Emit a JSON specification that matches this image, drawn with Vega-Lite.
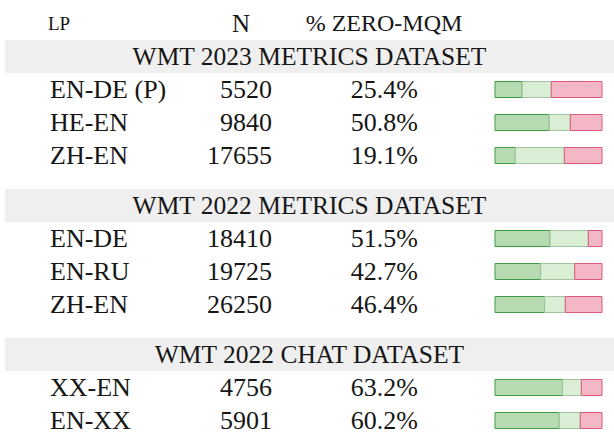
{
  "$schema": "https://vega.github.io/schema/vega-lite/v6.json",
  "padding": {"left": 5, "top": 7, "right": 0, "bottom": 0},
  "background": "white",
  "spacing": 17,
  "config": {
    "view": {"stroke": null},
    "font": "Liberation Serif",
    "text": {"font": "Liberation Serif", "color": "#161616", "baseline": "middle"}
  },
  "resolve": {"scale": {"x": "independent", "y": "independent", "color": "independent", "stroke": "independent"}},
  "datasets": {
    "table": [
      {"section": "WMT 2023 METRICS DATASET", "lp": "EN-DE (P)", "n": 5520, "pct": 0.254, "pctMid": 0.272, "pctRest": 0.474},
      {"section": "WMT 2023 METRICS DATASET", "lp": "HE-EN", "n": 9840, "pct": 0.508, "pctMid": 0.196, "pctRest": 0.296},
      {"section": "WMT 2023 METRICS DATASET", "lp": "ZH-EN", "n": 17655, "pct": 0.191, "pctMid": 0.457, "pctRest": 0.352},
      {"section": "WMT 2022 METRICS DATASET", "lp": "EN-DE", "n": 18410, "pct": 0.515, "pctMid": 0.357, "pctRest": 0.128},
      {"section": "WMT 2022 METRICS DATASET", "lp": "EN-RU", "n": 19725, "pct": 0.427, "pctMid": 0.318, "pctRest": 0.255},
      {"section": "WMT 2022 METRICS DATASET", "lp": "ZH-EN", "n": 26250, "pct": 0.464, "pctMid": 0.193, "pctRest": 0.343},
      {"section": "WMT 2022 CHAT DATASET", "lp": "XX-EN", "n": 4756, "pct": 0.632, "pctMid": 0.175, "pctRest": 0.193},
      {"section": "WMT 2022 CHAT DATASET", "lp": "EN-XX", "n": 5901, "pct": 0.602, "pctMid": 0.195, "pctRest": 0.203}
    ],
    "sections": [
      {"section": "WMT 2023 METRICS DATASET"},
      {"section": "WMT 2022 METRICS DATASET"},
      {"section": "WMT 2022 CHAT DATASET"}
    ],
    "headers": [
      {"row": "header", "col": "lp", "label": "LP"},
      {"row": "header", "col": "n", "label": "N"},
      {"row": "header", "col": "pct", "label": "% ZERO-MQM"}
    ]
  },
  "vconcat": [
    {
      "width": 609,
      "height": 165,
      "data": {"name": "table"},
      "transform": [{"filter": "datum.section == 'WMT 2023 METRICS DATASET'"}],
      "encoding": {
        "y": {"field": "lp", "type": "nominal", "axis": null,
              "scale": {"type": "band", "domain": ["header", "WMT 2023 METRICS DATASET", "EN-DE (P)", "HE-EN", "ZH-EN"], "paddingInner": 0, "paddingOuter": 0}}
      },
      "layer": [
        {"data": {"name": "sections"}, "transform": [{"filter": "datum.section == 'WMT 2023 METRICS DATASET'"}],
         "mark": {"type": "rect", "color": "#efefef"},
         "encoding": {"x": {"value": 0}, "x2": {"value": "width"}, "y": {"field": "section", "type": "nominal"}}},
        {"data": {"name": "sections"}, "transform": [{"filter": "datum.section == 'WMT 2023 METRICS DATASET'"}],
         "mark": {"type": "text", "font": "Liberation Serif", "fontSize": 25.5, "align": "center"},
         "encoding": {"y": {"field": "section", "type": "nominal"}, "text": {"field": "section", "type": "nominal"}}},
        {"data": {"name": "headers"}, "transform": [{"filter": "datum.col == 'lp'"}],
         "mark": {"type": "text", "font": "Liberation Serif", "fontSize": 19, "align": "center"},
         "encoding": {"x": {"value": 54}, "y": {"field": "row", "type": "nominal"}, "text": {"field": "label", "type": "nominal"}}},
        {"data": {"name": "headers"}, "transform": [{"filter": "datum.col == 'n'"}],
         "mark": {"type": "text", "font": "Liberation Serif", "fontSize": 25, "align": "center"},
         "encoding": {"x": {"value": 236}, "y": {"field": "row", "type": "nominal"}, "text": {"field": "label", "type": "nominal"}}},
        {"data": {"name": "headers"}, "transform": [{"filter": "datum.col == 'pct'"}],
         "mark": {"type": "text", "font": "Liberation Serif", "fontSize": 24, "align": "center"},
         "encoding": {"x": {"value": 379}, "y": {"field": "row", "type": "nominal"}, "text": {"field": "label", "type": "nominal"}}},
        {"mark": {"type": "text", "font": "Liberation Serif", "fontSize": 26, "align": "left"},
         "encoding": {"x": {"value": 45}, "text": {"field": "lp", "type": "nominal"}}},
        {"mark": {"type": "text", "font": "Liberation Serif", "fontSize": 26, "align": "right"},
         "encoding": {"x": {"value": 267}, "text": {"field": "n", "type": "quantitative", "format": "d"}}},
        {"mark": {"type": "text", "font": "Liberation Serif", "fontSize": 26, "align": "right"},
         "encoding": {"x": {"value": 413}, "text": {"field": "pct", "type": "quantitative", "format": ".1%"}}},
        {"transform": [{"fold": ["pct", "pctMid", "pctRest"], "as": ["part", "share"]}],
         "mark": {"type": "bar", "height": 16, "strokeWidth": 1, "opacity": 1},
         "encoding": {
           "x": {"field": "share", "type": "quantitative", "stack": "zero", "axis": null, "scale": {"domain": [0, 1], "range": [490, 597]}},
           "order": {"field": "part", "sort": "ascending"},
           "fill": {"field": "part", "type": "nominal", "legend": null, "scale": {"domain": ["pct", "pctMid", "pctRest"], "range": ["#b6dab1", "#d9eed5", "#f4b7c6"]}},
           "stroke": {"field": "part", "type": "nominal", "legend": null, "scale": {"domain": ["pct", "pctMid", "pctRest"], "range": ["#3e9c48", "#a3c6a0", "#da5c7c"]}}
         }}
      ]
    },
    {
      "width": 609,
      "height": 132,
      "data": {"name": "table"},
      "transform": [{"filter": "datum.section == 'WMT 2022 METRICS DATASET'"}],
      "encoding": {
        "y": {"field": "lp", "type": "nominal", "axis": null,
              "scale": {"type": "band", "domain": ["WMT 2022 METRICS DATASET", "EN-DE", "EN-RU", "ZH-EN"], "paddingInner": 0, "paddingOuter": 0}}
      },
      "layer": [
        {"data": {"name": "sections"}, "transform": [{"filter": "datum.section == 'WMT 2022 METRICS DATASET'"}],
         "mark": {"type": "rect", "color": "#efefef"},
         "encoding": {"x": {"value": 0}, "x2": {"value": "width"}, "y": {"field": "section", "type": "nominal"}}},
        {"data": {"name": "sections"}, "transform": [{"filter": "datum.section == 'WMT 2022 METRICS DATASET'"}],
         "mark": {"type": "text", "font": "Liberation Serif", "fontSize": 25.5, "align": "center"},
         "encoding": {"y": {"field": "section", "type": "nominal"}, "text": {"field": "section", "type": "nominal"}}},
        {"mark": {"type": "text", "font": "Liberation Serif", "fontSize": 26, "align": "left"},
         "encoding": {"x": {"value": 45}, "text": {"field": "lp", "type": "nominal"}}},
        {"mark": {"type": "text", "font": "Liberation Serif", "fontSize": 26, "align": "right"},
         "encoding": {"x": {"value": 267}, "text": {"field": "n", "type": "quantitative", "format": "d"}}},
        {"mark": {"type": "text", "font": "Liberation Serif", "fontSize": 26, "align": "right"},
         "encoding": {"x": {"value": 413}, "text": {"field": "pct", "type": "quantitative", "format": ".1%"}}},
        {"transform": [{"fold": ["pct", "pctMid", "pctRest"], "as": ["part", "share"]}],
         "mark": {"type": "bar", "height": 16, "strokeWidth": 1, "opacity": 1},
         "encoding": {
           "x": {"field": "share", "type": "quantitative", "stack": "zero", "axis": null, "scale": {"domain": [0, 1], "range": [490, 597]}},
           "order": {"field": "part", "sort": "ascending"},
           "fill": {"field": "part", "type": "nominal", "legend": null, "scale": {"domain": ["pct", "pctMid", "pctRest"], "range": ["#b6dab1", "#d9eed5", "#f4b7c6"]}},
           "stroke": {"field": "part", "type": "nominal", "legend": null, "scale": {"domain": ["pct", "pctMid", "pctRest"], "range": ["#3e9c48", "#a3c6a0", "#da5c7c"]}}
         }}
      ]
    },
    {
      "width": 609,
      "height": 99,
      "data": {"name": "table"},
      "transform": [{"filter": "datum.section == 'WMT 2022 CHAT DATASET'"}],
      "encoding": {
        "y": {"field": "lp", "type": "nominal", "axis": null,
              "scale": {"type": "band", "domain": ["WMT 2022 CHAT DATASET", "XX-EN", "EN-XX"], "paddingInner": 0, "paddingOuter": 0}}
      },
      "layer": [
        {"data": {"name": "sections"}, "transform": [{"filter": "datum.section == 'WMT 2022 CHAT DATASET'"}],
         "mark": {"type": "rect", "color": "#efefef"},
         "encoding": {"x": {"value": 0}, "x2": {"value": "width"}, "y": {"field": "section", "type": "nominal"}}},
        {"data": {"name": "sections"}, "transform": [{"filter": "datum.section == 'WMT 2022 CHAT DATASET'"}],
         "mark": {"type": "text", "font": "Liberation Serif", "fontSize": 25.5, "align": "center"},
         "encoding": {"y": {"field": "section", "type": "nominal"}, "text": {"field": "section", "type": "nominal"}}},
        {"mark": {"type": "text", "font": "Liberation Serif", "fontSize": 26, "align": "left"},
         "encoding": {"x": {"value": 45}, "text": {"field": "lp", "type": "nominal"}}},
        {"mark": {"type": "text", "font": "Liberation Serif", "fontSize": 26, "align": "right"},
         "encoding": {"x": {"value": 267}, "text": {"field": "n", "type": "quantitative", "format": "d"}}},
        {"mark": {"type": "text", "font": "Liberation Serif", "fontSize": 26, "align": "right"},
         "encoding": {"x": {"value": 413}, "text": {"field": "pct", "type": "quantitative", "format": ".1%"}}},
        {"transform": [{"fold": ["pct", "pctMid", "pctRest"], "as": ["part", "share"]}],
         "mark": {"type": "bar", "height": 16, "strokeWidth": 1, "opacity": 1},
         "encoding": {
           "x": {"field": "share", "type": "quantitative", "stack": "zero", "axis": null, "scale": {"domain": [0, 1], "range": [490, 597]}},
           "order": {"field": "part", "sort": "ascending"},
           "fill": {"field": "part", "type": "nominal", "legend": null, "scale": {"domain": ["pct", "pctMid", "pctRest"], "range": ["#b6dab1", "#d9eed5", "#f4b7c6"]}},
           "stroke": {"field": "part", "type": "nominal", "legend": null, "scale": {"domain": ["pct", "pctMid", "pctRest"], "range": ["#3e9c48", "#a3c6a0", "#da5c7c"]}}
         }}
      ]
    }
  ]
}
